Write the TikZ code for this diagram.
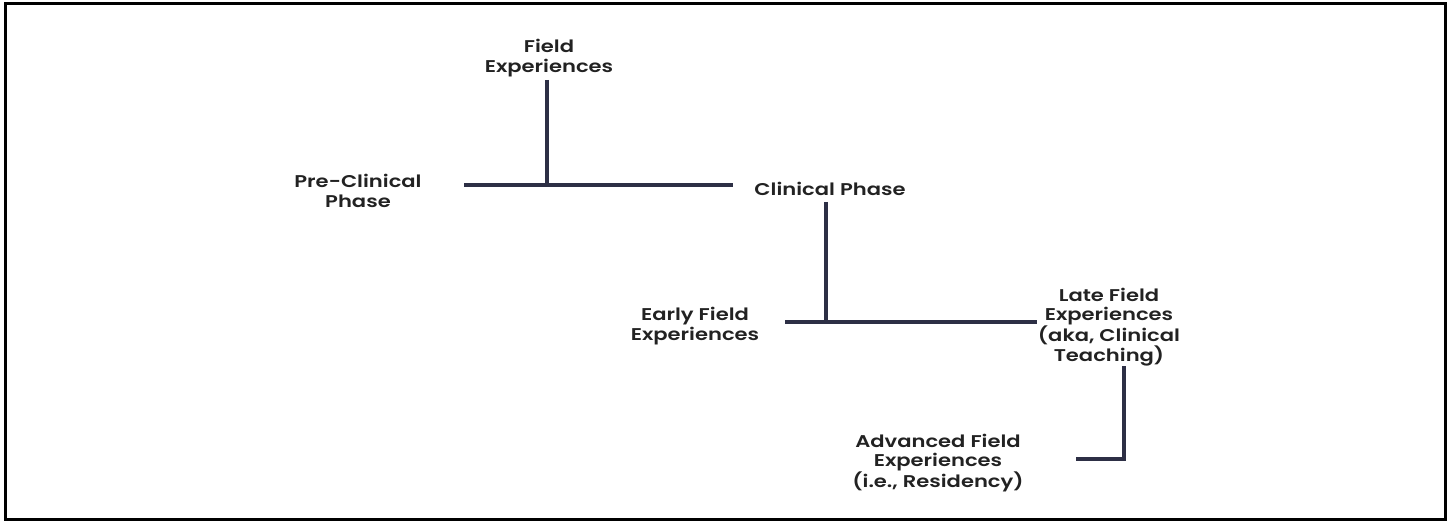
\documentclass[tikz,border=0pt]{standalone}
\usepackage{fontspec}
\setmainfont{Poppins}[FakeStretch=1.23, BoldFont={Poppins SemiBold}, BoldFeatures={FakeStretch=1.24}]
\usetikzlibrary{positioning}
\definecolor{linenavy}{HTML}{2D2F45}
\definecolor{textgrey}{HTML}{222222}
\tikzset{
  phase/.style={align=center, text=textgrey, inner sep=0pt,
    font=\fontsize{17}{19.5}\selectfont\bfseries},
  branch/.style={linenavy, line width=3.5pt}
}
\begin{document}
\begin{tikzpicture}[x=1pt,y=-1pt]
      \useasboundingbox (0,0) rectangle (1450,521);
      \draw [line width=3pt] (5.5,3.5) rectangle (1445.5,519.5);
      % phases
      \node [phase] (field) at (549,58) {Field\\Experiences};
      \node [phase] (pre) at (358,191) {Pre-Clinical\\Phase};
      \node [phase] (clin) at (830,189) {Clinical Phase};
      \node [phase] (early) at (695,326) {Early Field\\Experiences};
      \node [phase] (late) at (1109,327) {Late Field\\Experiences\\(aka, Clinical\\Teaching)};
      \node [phase] (adv) at (938,463) {Advanced Field\\Experiences\\(i.e., Residency)};
      % junctions
      \coordinate (j1) at (547,185);
      \coordinate (preend) at (464,185);
      \coordinate (clinend) at (733,185);
      \coordinate (j2) at (826,322);
      \coordinate (earlyend) at (785,322);
      \coordinate (lateend) at (1037,322);
      \coordinate (j3) at (1124,459);
      \coordinate (advend) at (1076,459);
      % connectors
      \draw [branch] (preend) -- (clinend);
      \draw [branch] (j1 |- field.south) ++(0,3) -- (j1);
      \draw [branch] (earlyend) -- (lateend);
      \draw [branch] (j2 |- clin.south) ++(0,6) -- (j2);
      \draw [branch] (j3 |- late.south) ++(0,0) -- (j3) -- (advend);
\end{tikzpicture}
\end{document}
